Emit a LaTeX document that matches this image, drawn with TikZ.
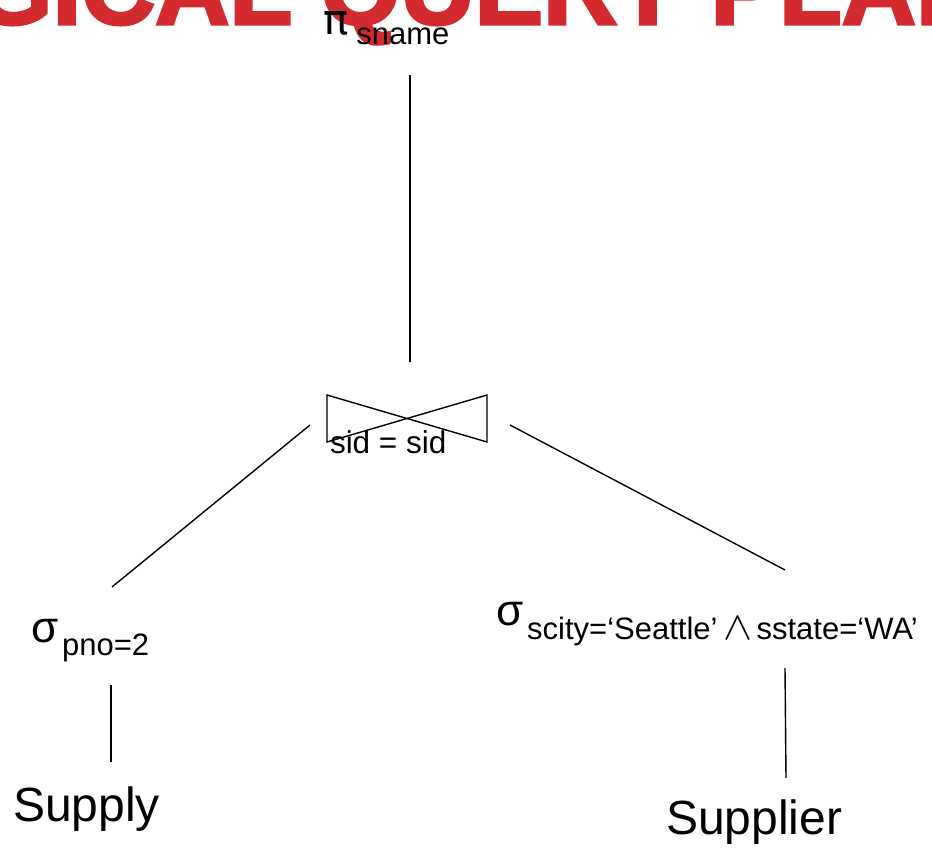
\documentclass[tikz,border=0pt]{standalone}
\usepackage{fontspec}
\setmainfont{Liberation Sans}
\newfontfamily\symfont{DejaVu Sans}
\newfontfamily\titlefont[FakeBold=3]{Liberation Sans}
\definecolor{titlered}{RGB}{211,42,48}
\begin{document}
\begin{tikzpicture}[x=1pt,y=-1pt,
  lbl/.style={anchor=base west,inner sep=0pt,outer sep=0pt},
  link/.style={line width=1.4pt,line cap=butt},
  bigop/.style={lbl,font=\fontsize{44}{44}\selectfont},
  rel/.style={lbl,font=\fontsize{48}{48}\selectfont}]
\useasboundingbox (0,0) rectangle (932,850);
\clip (0,0) rectangle (932,850);

% slide title, mostly cut off by the top edge
\node[lbl,text=titlered,font=\titlefont\fontsize{102.7}{102.7}\selectfont\bfseries]
  (title) at (-170,24) {LOGICAL QUERY PLAN};

% projection
\node[lbl,font=\symfont\fontsize{42}{42}\selectfont] (proj) at (323,35)
  {π\kern8pt\raisebox{-10pt}{\rmfamily\fontsize{31}{31}\selectfont sname}};

% join (bowtie) with its condition
\coordinate (join) at (407,418.5);
\draw[link] ([shift={(-80,-23.5)}]join) -- ([shift={(-80,23.5)}]join)
  -- ([shift={(80,-23.5)}]join) -- ([shift={(80,23.5)}]join) -- cycle;
\node[lbl,font=\fontsize{31.5}{31.5}\selectfont] (cond) at (330,453) {sid = sid};

% selections
\node[bigop] (selL) at (31,642)
  {σ\kern4pt\raisebox{-13pt}{\fontsize{31}{31}\selectfont pno=2}};
\node[bigop] (selR) at (496,625)
  {σ\kern4pt\raisebox{-14pt}{\fontsize{31}{31}\selectfont
   scity=‘Seattle’\hspace{6pt}\scalebox{1.75}[1.6]{$\wedge$}\hspace{4pt}sstate=‘WA’}};

% base relations
\node[rel] (supply) at (13,821) {Supply};
\node[rel] (supplier) at (666,834) {Supplier};

% connector end points
\coordinate (projB) at (410,75);
\coordinate (joinT) at (410,362);
\coordinate (joinL) at (310,425);
\coordinate (joinR) at (510,425);
\coordinate (selLT) at (112,587);
\coordinate (selRT) at (785,570);
\coordinate (selLB) at (111,685);
\coordinate (supplyT) at (111,762);
\coordinate (selRB) at (785,668);
\coordinate (supplierT) at (786,778);

\draw[link] (projB) -- (joinT);
\draw[link] (joinL) -- (selLT);
\draw[link] (joinR) -- (selRT);
\draw[link] (selLB) -- (supplyT);
\draw[link] (selRB) -- (supplierT);
\end{tikzpicture}
\end{document}
